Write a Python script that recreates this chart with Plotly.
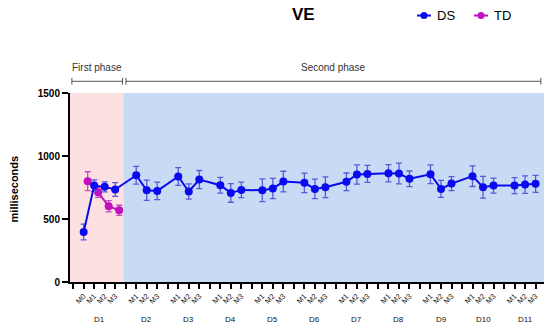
import plotly.graph_objects as go

# ---- data ----
days = ["D1", "D2", "D3", "D4", "D5", "D6", "D7", "D8", "D9", "D10", "D11"]
day1_moments = ["M0", "M1", "M2", "M3"]
other_moments = ["M1", "M2", "M3"]

ds_mean = [397, 765, 755, 734,
           847, 728, 723,
           837, 718, 813,
           768, 707, 731,
           728, 742, 797,
           787, 739, 752,
           795, 853, 858,
           863, 861, 819,
           855, 739, 781,
           840, 752, 765,
           765, 773, 779]
ds_sem = [63, 45, 40, 55,
          70, 80, 70,
          70, 60, 72,
          62, 74, 62,
          90, 80, 82,
          77, 77, 83,
          70, 77, 67,
          68, 83, 62,
          75, 68, 56,
          82, 86, 60,
          63, 70, 68]

td_mean = [800, 712, 601, 569]
td_sem = [75, 40, 45, 40]

y_ticks = [0, 500, 1000, 1500]
phase_names = ["First phase", "Second phase"]
series_names = ["DS", "TD"]

# ---- positions (categorical with a gap before each day) ----
pos = 1
positions, tick_vals, tick_text = [], [0], [""]
day_centers = []
for i, d in enumerate(days):
    moments = day1_moments if i == 0 else other_moments
    if i > 0:
        tick_vals.append(pos); tick_text.append(""); pos += 1
    grp = []
    for m in moments:
        positions.append(pos); grp.append(pos)
        tick_vals.append(pos); tick_text.append(m); pos += 1
    day_centers.append(sum(grp) / len(grp))

td_offset = 0.38
td_positions = [p + td_offset for p in positions[:len(td_mean)]]

BLUE = "#0a0aef"
MAG = "#c010c0"
FONT = "Arial, Liberation Sans, sans-serif"

fig = go.Figure()
fig.add_trace(go.Scatter(
    x=td_positions, y=td_mean, name="TD", mode="lines+markers",
    line=dict(color=MAG, width=2), marker=dict(color=MAG, size=8),
    error_y=dict(type="data", array=td_sem, color="#c050c0", thickness=1.3, width=3),
))
fig.add_trace(go.Scatter(
    x=positions, y=ds_mean, name="DS", mode="lines+markers",
    line=dict(color=BLUE, width=2), marker=dict(color=BLUE, size=8),
    error_y=dict(type="data", array=ds_sem, color="#5a5ad8", thickness=1.3, width=3),
))

x_lo, x_hi = -0.3, 44.8
split = 4.78
fig.add_shape(type="rect", xref="x", yref="y", x0=x_lo, x1=split, y0=0, y1=1500,
              fillcolor="#fde0e1", line_width=0, layer="below")
fig.add_shape(type="rect", xref="x", yref="y", x0=split, x1=x_hi, y0=0, y1=1500,
              fillcolor="#c7dbf5", line_width=0, layer="below")

# phase brackets
brackets = [(-0.12, 4.7), (5.02, 44.5)]
by = 1.062
for (a, b), name in zip(brackets, phase_names):
    fig.add_shape(type="line", xref="x", yref="paper", x0=a, x1=b, y0=by, y1=by,
                  line=dict(color="#555", width=1))
    for xx in (a, b):
        fig.add_shape(type="line", xref="x", yref="paper", x0=xx, x1=xx,
                      y0=by - 0.018, y1=by + 0.018, line=dict(color="#555", width=1))
    fig.add_annotation(x=(a + b) / 2, y=1.135, xref="x", yref="paper", text=name,
                       showarrow=False, font=dict(family=FONT, size=10, color="#333"),
                       yanchor="middle")

for d, c in zip(days, day_centers):
    fig.add_annotation(x=c, y=-0.2, xref="x", yref="paper", text=d, showarrow=False,
                       font=dict(family=FONT, size=8, color="#111"), yanchor="middle")

# title
fig.add_annotation(x=(303 - 70) / 474, y=1.414, xref="paper", yref="paper",
                   text="<b>VE</b>", showarrow=False, yanchor="middle",
                   font=dict(family=FONT, size=17, color="black"))
# y-axis title
fig.add_annotation(x=-0.118, y=0.49, xref="paper", yref="paper", text="<b>milliseconds</b>",
                   textangle=-90, showarrow=False, xanchor="center", yanchor="middle",
                   font=dict(family=FONT, size=11, color="black"))

# legend (drawn manually to match compact symbols)
leg_y = 1.41
leg_items = [(series_names[0], BLUE, 424), (series_names[1], MAG, 481)]
for name, col, cx in leg_items:
    xc = (cx - 70) / 474
    fig.add_shape(type="line", xref="paper", yref="paper", x0=xc - 7 / 474, x1=xc + 7 / 474,
                  y0=leg_y, y1=leg_y, line=dict(color=col, width=2))
    fig.add_shape(type="circle", xref="paper", yref="paper",
                  x0=xc - 3.5 / 474, x1=xc + 3.5 / 474,
                  y0=leg_y - 3.5 / 189, y1=leg_y + 3.5 / 189,
                  fillcolor=col, line=dict(color=col, width=0))
    fig.add_annotation(x=xc + 11 / 474, y=leg_y, xref="paper", yref="paper", text=name,
                       showarrow=False, xanchor="left", yanchor="middle",
                       font=dict(family=FONT, size=13, color="black"))

fig.update_layout(
    width=550, height=328,
    margin=dict(l=70, r=6, t=93, b=46, autoexpand=False),
    paper_bgcolor="white", plot_bgcolor="white",
    font=dict(family=FONT, color="black"),
    showlegend=False,
)
fig.update_xaxes(range=[x_lo, x_hi], tickmode="array", tickvals=tick_vals, ticktext=tick_text,
                 tickangle=-45, tickfont=dict(size=7.5, family=FONT, color="#222"),
                 showline=True, linecolor="black", linewidth=2,
                 ticks="outside", ticklen=5, tickwidth=2, tickcolor="black",
                 showgrid=False, zeroline=False, automargin=False)
fig.update_yaxes(range=[0, 1500], tickvals=y_ticks,
                 tickfont=dict(size=10, family=FONT, color="black", weight="bold"),
                 showline=True, linecolor="black", linewidth=2,
                 ticks="outside", ticklen=6, tickwidth=2, tickcolor="black",
                 showgrid=False, zeroline=False, automargin=False)

fig.write_html("out.html", config={"displayModeBar": False, "staticPlot": True},
               post_script="document.body.style.margin='0';")
